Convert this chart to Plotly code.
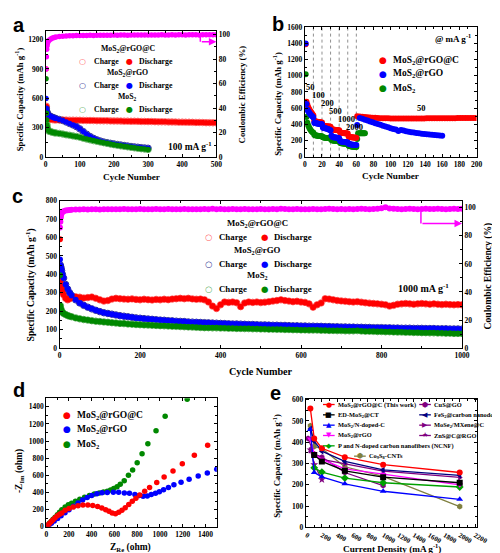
import plotly.graph_objects as go

# ======================= DATA =======================
# (a) cycling at 100 mA g-1
a_cycles = [1, 2, 3, 4, 5, 7, 10, 15, 20, 25] + list(range(30, 501, 10))
a_rgoc = [900, 520, 450, 420, 405, 395, 390, 386, 384, 382,
          381, 380, 380, 379, 378, 378, 377, 377, 376, 375,
          375, 374, 373, 373, 372, 372, 371, 370, 370, 369,
          368, 368, 367, 367, 366, 365, 365, 364, 364, 363,
          362, 362, 361, 360, 360, 359, 358, 358, 357, 357,
          356, 355, 355, 354, 353, 353, 352, 351]
a_rgo = [600, 500, 470, 455, 445, 435, 425, 415, 407, 401,
         395, 385, 375, 360, 345, 330, 313, 290, 262, 235,
         212, 193, 178, 166, 156, 149, 142, 136, 130, 125,
         120, 115, 110, 106, 102, 98, 95, 92]
a_mos2 = [800, 450, 380, 330, 300, 280, 265, 260, 255, 250,
          248, 243, 237, 230, 224, 218, 212, 205, 195, 186,
          178, 170, 163, 156, 149, 142, 135, 129, 123, 117,
          112, 107, 102, 97, 92, 88, 84, 80]
a_ce = [72, 82, 88, 91, 93, 94.5, 95.5, 96.5, 97.2, 97.7,
        98.0, 98.4, 98.7, 98.9, 99.0, 99.1, 99.2, 99.2, 99.3, 99.3,
        99.4, 99.3, 99.4, 99.5, 99.4, 99.5, 99.5, 99.6, 99.5, 99.6,
        99.6, 99.5, 99.6, 99.7, 99.6, 99.7, 99.6, 99.7, 99.7, 99.6,
        99.7, 99.8, 99.7, 99.7, 99.8, 99.7, 99.8, 99.8, 99.7, 99.8,
        99.8, 99.8, 99.7, 99.8, 99.9, 99.8, 99.8, 99.9]

# (b) rate performance
b_rates_label = ["50", "100", "200", "500", "1000", "2000", "50"]
b_rates_cycle = [6.5, 16, 26, 36, 48, 58, 136]
b_rates_cap = [856, 767, 666, 570, 471, 362, 605]
b_bounds = [10, 20, 30, 40, 50, 60]
b_cyc_first = list(range(1, 61))
b_rgoc_first = [1390, 680, 640, 610, 590, 570, 555, 540, 525, 510,
                445, 438, 435, 432, 430, 428, 426, 425, 423, 422,
                385, 380, 378, 376, 375, 374, 373, 372, 371, 370,
                340, 336, 334, 332, 331, 330, 329, 328, 327, 326,
                300, 296, 294, 292, 291, 290, 289, 288, 287, 286,
                250, 245, 242, 240, 238, 237, 236, 235, 234, 233]
b_rgo_first = [1400, 650, 580, 560, 545, 530, 515, 505, 495, 485,
               420, 415, 412, 410, 408, 406, 404, 403, 402, 400,
               360, 355, 352, 350, 348, 345, 340, 335, 330, 325,
               260, 245, 240, 238, 236, 235, 234, 232, 230, 228,
               195, 188, 185, 183, 182, 180, 179, 178, 177, 176,
               160, 155, 152, 150, 148, 147, 146, 145, 144, 143]
b_mos2_first = [1020, 490, 420, 385, 360, 340, 325, 312, 302, 295,
                270, 265, 262, 260, 258, 256, 255, 254, 253, 252,
                240, 236, 234, 232, 231, 230, 229, 228, 227, 226,
                205, 200, 198, 197, 196, 195, 194, 193, 192, 191,
                170, 166, 164, 162, 161, 160, 159, 158, 157, 156,
                135, 130, 127, 125, 124, 123, 122, 121, 120, 119]
b_rgoc_cyc_rec = list(range(61, 201, 3))
b_rgoc_rec = [500, 497, 494, 491, 488, 485, 482, 480, 478, 476,
              475, 474, 473, 472, 472, 471, 471, 470, 470, 470,
              470, 471, 471, 471, 472, 472, 472, 473, 473, 473,
              474, 474, 474, 475, 475, 475, 476, 476, 476, 477,
              477, 477, 478, 478, 478, 478, 479]
b_rgo_cyc_rec = list(range(61, 161, 3))
b_rgo_rec = [390, 478, 468, 457, 446, 435, 424, 413, 403, 393,
             382, 372, 362, 352, 343, 335, 318, 330, 322, 315,
             308, 302, 297, 292, 288, 284, 280, 276, 273, 270,
             267, 264, 261, 258]
b_mos2_cyc_rec = list(range(61, 71))
b_mos2_rec = [218, 285, 288, 289, 290, 290, 290, 289, 289, 288]

# (c) long cycling at 1000 mA g-1
c_cycles = [1, 2, 3, 4, 5, 7, 10, 15, 20, 25] + list(range(30, 1001, 10))
c_rgoc = [590, 360, 340, 330, 320, 305, 290, 270, 262, 268,
          275, 278, 276, 272, 274, 277, 270, 262, 255, 258,
          266, 270, 268, 266, 265, 267, 264, 262, 265, 263,
          261, 264, 262, 265, 263, 266, 268, 270, 268, 270,
          267, 265, 266, 262, 250, 228, 215, 235, 250, 248,
          250, 246, 225, 245, 250, 248, 250, 247, 249, 252,
          255, 258, 262, 258, 255, 252, 254, 250, 248, 240,
          222, 235, 245, 268, 266, 262, 258, 256, 254, 252,
          250, 252, 249, 246, 244, 242, 240, 238, 235, 228,
          232, 238, 240, 242, 240, 238, 240, 242, 240, 238,
          240, 238, 236, 238, 236, 235, 236, 235]
c_rgo = [480, 450, 440, 430, 420, 400, 380, 345, 320, 300,
         285, 262, 245, 232, 222, 213, 205, 198, 192, 188,
         184, 180, 176, 173, 170, 167, 164, 162, 160, 158,
         156, 154, 152, 151, 149, 148, 146, 145, 144, 142,
         141, 140, 139, 138, 137, 136, 135, 134, 133, 132,
         131, 131, 130, 129, 128, 128, 127, 126, 126, 125,
         124, 124, 123, 123, 122, 121, 121, 120, 120, 119,
         119, 118, 118, 117, 117, 116, 116, 115, 115, 114,
         114, 113, 113, 112, 112, 111, 111, 111, 110, 110,
         109, 109, 108, 108, 108, 107, 107, 107, 106, 106,
         106, 105, 105, 105, 104, 104, 104, 103]
c_mos2 = [395, 230, 215, 205, 200, 195, 188, 182, 177, 173,
          170, 164, 159, 155, 152, 149, 146, 144, 142, 140,
          138, 136, 134, 133, 131, 130, 128, 127, 126, 125,
          124, 123, 122, 121, 120, 119, 118, 117, 116, 115,
          114, 113, 112, 111, 111, 110, 110, 109, 109, 108,
          108, 107, 107, 106, 106, 105, 105, 104, 104, 103,
          103, 102, 102, 101, 101, 100, 100, 99, 99, 98,
          98, 98, 97, 97, 96, 96, 95, 95, 94, 94,
          94, 95, 93, 92, 92, 91, 90, 90, 89, 89,
          88, 87, 87, 86, 86, 85, 85, 84, 84, 83,
          83, 82, 82, 81, 81, 80, 80, 80]
c_ce = [86, 90, 93, 95, 96, 97, 97.5, 98, 98.2, 98.4,
        98.6, 98.8, 98.7, 98.9, 98.8, 98.9, 99.0, 98.8, 98.9, 99.0,
        98.9, 99.0, 98.9, 99.1, 99.0, 98.9, 99.0, 99.1, 99.0, 98.9,
        99.0, 99.1, 99.0, 99.0, 99.1, 99.0, 98.9, 99.0, 99.1, 99.0,
        99.0, 98.9, 99.0, 99.1, 99.0, 99.2, 99.0, 99.1, 99.0, 99.0,
        99.1, 99.0, 99.0, 99.1, 99.0, 98.9, 99.0, 99.1, 99.0, 99.0,
        99.1, 99.0, 99.2, 99.1, 99.0, 99.0, 99.1, 99.0, 98.9, 99.0,
        99.1, 99.0, 99.0, 99.1, 99.2, 99.1, 99.0, 99.1, 99.0, 99.1,
        99.0, 99.1, 99.2, 99.1, 99.0, 99.1, 99.3, 99.6, 100.4, 99.5,
        99.2, 99.1, 99.0, 99.1, 99.2, 99.1, 99.0, 99.1, 99.2, 99.1,
        99.1, 99.2, 99.1, 99.0, 99.1, 99.2, 99.1, 99.2]

# (d) Nyquist plots
d_rgoc_re = [8, 18, 30, 45, 60, 78, 98, 117, 137, 166, 200, 237, 280, 323, 366, 409, 452, 489, 523,
             552, 580, 609, 638, 666, 695, 726, 757, 789, 823, 866, 909, 972, 1037, 1115, 1197, 1303, 1420]
d_rgoc_im = [10, 25, 42, 62, 82, 105, 128, 145, 161, 192, 214, 230, 245, 253, 253, 249, 238, 218, 199,
             180, 161, 153, 169, 192, 222, 260, 299, 333, 372, 414, 460, 517, 582, 651, 735, 835, 951]
d_rgo_re = [10, 25, 45, 70, 100, 130, 165, 200, 240, 280, 320, 360, 400, 445, 490, 537, 590, 637,
            687, 732, 780, 818, 852, 889, 924, 961, 995, 1032, 1075, 1123, 1186, 1257, 1337, 1417, 1500]
d_rgo_im = [8, 22, 42, 68, 98, 130, 165, 200, 240, 278, 312, 342, 365, 385, 396, 400, 402, 403,
            395, 391, 376, 364, 356, 360, 376, 391, 410, 433, 460, 491, 521, 556, 594, 629, 671]
d_mos2_re = [8, 18, 30, 45, 60, 78, 98, 117, 137, 166, 194, 223, 257, 295, 337, 380, 423, 466, 503,
             537, 566, 594, 623, 651, 686, 723, 760, 800, 843, 894, 966, 1046, 1240]
d_mos2_im = [12, 28, 45, 65, 88, 112, 140, 170, 200, 230, 257, 276, 299, 322, 345, 364, 383, 395, 406,
             414, 429, 448, 467, 498, 537, 601, 663, 747, 854, 970, 1120, 1292, 1488]

# (e) comparison with literature
e_names = ["MoS<sub>2</sub>@rGO@C (This work)", "ED-MoS<sub>2</sub>@CT", "MoS<sub>2</sub>/N-doped-C",
           "MoS<sub>2</sub>@rGO", "P and N-doped carbon nanofibers (NCNF)", "CuS@GO",
           "FeS<sub>2</sub>@carbon nanodots", "MoSe<sub>2</sub>/MXene@C", "ZnS@C@RGO",
           "Co<sub>9</sub>S<sub>8</sub>-CNTs"]
e_x = [[50, 100, 200, 500, 1000, 2000],
       [100, 200, 500, 1000, 2000],
       [50, 100, 200, 500, 1000, 2000],
       [50, 100, 200, 500, 1000, 2000],
       [100, 200, 500, 1000, 2000],
       [20, 100, 200, 500, 1000],
       [50, 100, 200, 500, 1000, 2000],
       [50, 100, 200, 500, 1000, 2000],
       [50, 100, 200],
       [50, 100, 200, 500, 1000, 2000]]
e_y = [[558, 418, 372, 330, 295, 258],
       [340, 310, 266, 236, 210],
       [460, 258, 238, 205, 170, 132],
       [415, 345, 320, 275, 250, 200],
       [280, 260, 232, 210, 190],
       [418, 345, 330, 258, 197],
       [462, 405, 358, 310, 270, 245],
       [362, 345, 320, 300, 265, 235],
       [365, 295, 225],
       [478, 380, 370, 285, 240, 98]]

# ======================= STYLE =======================
W, H = 500, 553
SERIF = "Liberation Serif"
SANS = "Liberation Sans"
RED, BLUE, GREEN, MAG = "#ff0000", "#0000ff", "#008800", "#ff00ff"
RED_O, BLUE_O, GREEN_O = "#ff6060", "#303090", "#60b060"
e_colors = [RED, "#000000", BLUE, MAG, "#00a000", "#800080", "#000080", "#800080", "#800080", "#808040"]
e_symbols = ["circle", "square", "triangle-up", "triangle-down", "diamond", "hexagon",
             "triangle-left", "triangle-right", "star", "hexagon"]


def px(x):
    return x / W


def py(y):
    return 1 - y / H


def bfont(size, color="black", family=SERIF):
    return dict(family=family, size=size, color=color, weight="bold")


def axis(domain, rng, dtick, mdtick, mirror=True, **kw):
    d = dict(domain=domain, range=rng, dtick=dtick, showline=True, linecolor="black", linewidth=1,
             mirror=mirror, ticks="inside", ticklen=3, tickwidth=1, tickcolor="black",
             showgrid=False, zeroline=False, tickfont=bfont(7.5),
             minor=dict(dtick=mdtick, ticks="inside", ticklen=2, tickcolor="black", showgrid=False))
    d.update(kw)
    return d


fig = go.Figure()


def pts(x, y, color, xa, ya, size=5.5, symbol="circle", lw=0):
    fig.add_trace(go.Scatter(x=x, y=y, mode="markers", xaxis=xa, yaxis=ya, showlegend=False,
                             marker=dict(size=size, color=color, symbol=symbol,
                                         line=dict(width=lw, color=color))))


# ---- (a)
pts(a_cycles[1:], a_rgoc[1:], RED_O, "x", "y", 6.5, "circle-open", 1)
pts(a_cycles[1:len(a_rgo)], a_rgo[1:], BLUE_O, "x", "y", 6.5, "circle-open", 1)
pts(a_cycles[1:len(a_mos2)], a_mos2[1:], GREEN_O, "x", "y", 6.5, "circle-open", 1)
pts(a_cycles, a_rgoc, RED, "x", "y")
pts(a_cycles[:len(a_rgo)], a_rgo, BLUE, "x", "y")
pts(a_cycles[:len(a_mos2)], a_mos2, GREEN, "x", "y")
pts(a_cycles, a_ce, MAG, "x", "y2", 5.5)

# ---- (b)
pts(b_cyc_first, b_mos2_first, GREEN, "x2", "y3", 6)
pts(b_mos2_cyc_rec, b_mos2_rec, GREEN, "x2", "y3", 6)
pts(b_cyc_first, b_rgoc_first, RED, "x2", "y3", 6)
pts(b_rgoc_cyc_rec, b_rgoc_rec, RED, "x2", "y3", 6)
pts(b_cyc_first, b_rgo_first, BLUE, "x2", "y3", 6)
pts(b_rgo_cyc_rec, b_rgo_rec, BLUE, "x2", "y3", 6)

# ---- (c)
pts(c_cycles[1:], c_rgoc[1:], RED_O, "x3", "y4", 6.5, "circle-open", 1)
pts(c_cycles[1:], c_rgo[1:], BLUE_O, "x3", "y4", 6.5, "circle-open", 1)
pts(c_cycles[1:], c_mos2[1:], GREEN_O, "x3", "y4", 6.5, "circle-open", 1)
pts(c_cycles, c_rgoc, RED, "x3", "y4", 6)
pts(c_cycles, c_rgo, BLUE, "x3", "y4", 6)
pts(c_cycles, c_mos2, GREEN, "x3", "y4", 6)
pts(c_cycles, c_ce, MAG, "x3", "y5", 6)

# ---- (d)
pts(d_mos2_re, d_mos2_im, GREEN, "x4", "y6", 5.5)
pts(d_rgo_re, d_rgo_im, BLUE, "x4", "y6", 5.5)
pts(d_rgoc_re, d_rgoc_im, RED, "x4", "y6", 5.5)

# ---- (e)
for i in range(len(e_names) - 1, -1, -1):
    fig.add_trace(go.Scatter(x=e_x[i], y=e_y[i], mode="lines+markers", xaxis="x5", yaxis="y7",
                             name=e_names[i], showlegend=False,
                             line=dict(color=e_colors[i], width=1.3),
                             marker=dict(color=e_colors[i], symbol=e_symbols[i], size=6)))

layout = dict(
    width=W, height=H, margin=dict(l=0, r=0, t=0, b=0), autosize=False,
    paper_bgcolor="white", plot_bgcolor="white", showlegend=False,
    xaxis=axis([px(36.7), px(212.3)], [0, 500], 100, 50, anchor="y", mirror="ticks"),
    yaxis=axis([py(147.7), py(19)], [0, 1290], 300, 150, anchor="x", mirror=False),
    yaxis2=axis([py(147.7), py(19)], [0, 103.2], 20, 10, anchor="x", overlaying="y",
                side="right", mirror=False),
    xaxis2=axis([px(303.3), px(480)], [0, 200], 20, 10, anchor="y3", mirror="ticks"),
    yaxis3=axis([py(147), py(15.5)], [0, 1600], 200, 100, anchor="x2", mirror="ticks"),
    xaxis3=axis([px(51), px(465)], [0, 1000], 200, 100, anchor="y4", mirror="ticks"),
    yaxis4=axis([py(341.7), py(191.7)], [0, 800], 100, 50, anchor="x3", mirror=False),
    yaxis5=axis([py(341.7), py(191.7)], [0, 105.1], 20, 10, anchor="x3", overlaying="y4",
                side="right", mirror=False),
    xaxis4=axis([px(37.3), px(212.7)], [0, 1500], 200, 100, anchor="y6", mirror="ticks"),
    yaxis6=axis([py(523.3), py(392.7)], [0, 1500], 200, 100, anchor="x4", mirror="ticks"),
    xaxis5=axis([px(304.3), px(480)], [-10, 2220], 200, 100, anchor="y7", mirror="ticks",
                tickfont=bfont(7)),
    yaxis7=axis([py(524), py(393)], [0, 605], 100, 50, anchor="x5", mirror="ticks"),
)
fig.update_layout(**layout)

ann = []
shapes = []


def text(x, y, s, size, anchor="center", color="black", family=SERIF, angle=0):
    ann.append(dict(x=px(x), y=py(y), xref="paper", yref="paper", text=s, showarrow=False,
                    xanchor=anchor, yanchor="middle", textangle=angle, font=bfont(size, color, family)))


def glyph(x, y, ch, color, size=9):
    ann.append(dict(x=px(x), y=py(y), xref="paper", yref="paper", text=ch, showarrow=False,
                    xanchor="center", yanchor="middle",
                    font=dict(family="DejaVu Sans", size=size, color=color)))


# axis titles
cap_title = "Specific Capacity (mAh g<sup>-1</sup>)"
ce_title = "Coulombic Efficiency (%)"
text(10, 89, cap_title, 8.8, angle=-90)
text(238.5, 84, ce_title, 8.8, angle=-90)
text(125, 168, "Cycle Number", 9.2)
text(275, 93, cap_title, 8.8, angle=-90)
text(391.7, 166.7, "Cycle Number", 9.2)
text(21.5, 277, cap_title, 9.6, angle=-90)
text(491.5, 268, ce_title, 9.6, angle=-90)
text(258, 365, "Cycle Number", 10.2)
text(10, 467, "-Z<sub>Im</sub> (ohm)", 9.5, angle=-90)
text(124, 544, "Z<sub>Re</sub> (ohm)", 9.5)
text(275, 461, cap_title, 8.8, angle=-90)
text(392.5, 545, "Current Density (mA g<sup>-1</sup>)", 9.2)

# panel letters
for letter, lx, ly in [("a", 9, 13), ("b", 276, 12), ("c", 8, 187), ("d", 9, 384), ("e", 273, 387)]:
    text(lx, ly, letter, 20, family=SANS)

# legends (a) and (c)
names3 = ["MoS<sub>2</sub>@rGO@C", "MoS<sub>2</sub>@rGO", "MoS<sub>2</sub>"]
open_cols = [RED_O, BLUE_O, GREEN_O]
fill_cols = [RED, BLUE, GREEN]
for (cx, titles_y, rows_y, ox, fx, fs, gs) in [
        (121, [37.3, 62.3, 86], [50, 75, 99], 75, 123, 7.8, 8),
        (255, [215, 242.3, 267.7], [228.3, 256, 281.3], 204, 261.7, 8.8, 8.5)]:
    for k in range(3):
        text(cx, titles_y[k], names3[k], fs)
        glyph(ox, rows_y[k], "○", open_cols[k], gs)
        text(ox + 9, rows_y[k], "Charge", fs, "left")
        glyph(fx, rows_y[k], "●", fill_cols[k], gs)
        text(fx + 8, rows_y[k], "Discharge", fs, "left")

text(185, 136, "100 mA g<sup>-1</sup>", 9.5)
text(425, 280.7, "1000 mA g<sup>-1</sup>", 10)

# legend (b)
for k, yy in enumerate([49.3, 62.7, 77.3]):
    glyph(383.3, yy, "●", fill_cols[k], 9)
    text(392, yy, names3[k], 9.5, "left")
text(456, 26.7, "@ mA g<sup>-1</sup>", 9)
for lab, cx, cy in zip(b_rates_label, b_rates_cycle, b_rates_cap):
    ann.append(dict(x=cx, y=cy, xref="x2", yref="y3", text=lab, showarrow=False,
                    font=bfont(8.5), xanchor="center", yanchor="middle"))
for v in b_bounds:
    shapes.append(dict(type="line", xref="x2", yref="y3", x0=v, x1=v, y0=0, y1=1600,
                       line=dict(color="#909090", width=1, dash="dot"), layer="below"))

# legend (d)
for k, yy in enumerate([410, 424.3, 439.3]):
    glyph(58.3, yy, "●", fill_cols[k], 9)
    text(67, yy, names3[k], 9.5, "left")

# legend (e)
e_glyphs = ["●", "■", "▲", "▼", "◆", "⬢", "◀", "▶", "★", "⬢"]
rows_e = [399, 409.5, 420, 430.5, 441, 451.5]
e_pos = [(328, rows_e[0]), (328, rows_e[1]), (328, rows_e[2]), (328, rows_e[3]), (328, rows_e[4]),
         (427, rows_e[0]), (427, rows_e[1]), (427, rows_e[2]), (427, rows_e[3]), (360, rows_e[5])]
for i, (gx, gy) in enumerate(e_pos):
    shapes.append(dict(type="line", xref="paper", yref="paper", x0=px(gx - 6), x1=px(gx + 6),
                       y0=py(gy), y1=py(gy), line=dict(color=e_colors[i], width=1.3)))
    glyph(gx, gy, e_glyphs[i], e_colors[i], 7)
    text(gx + 7, gy, e_names[i], 6.4, "left")

# CE arrows (a) and (c)
for xa, ya, xv, ytop, ybot, xend in [("x", "y2", 453, 99.8, 94.2, 500), ("x3", "y5", 898, 97.5, 88.8, 1000)]:
    shapes.append(dict(type="line", xref=xa, yref=ya, x0=xv, x1=xv, y0=ytop, y1=ybot,
                       line=dict(color=MAG, width=1.5)))
    ann.append(dict(x=xend, y=ybot, xref=xa, yref=ya, ax=xv, ay=ybot, axref=xa, ayref=ya, text="",
                    showarrow=True, arrowhead=2, arrowsize=1, arrowwidth=1.5, arrowcolor=MAG))

fig.update_layout(annotations=ann, shapes=shapes)
fig.write_html("out.html")
